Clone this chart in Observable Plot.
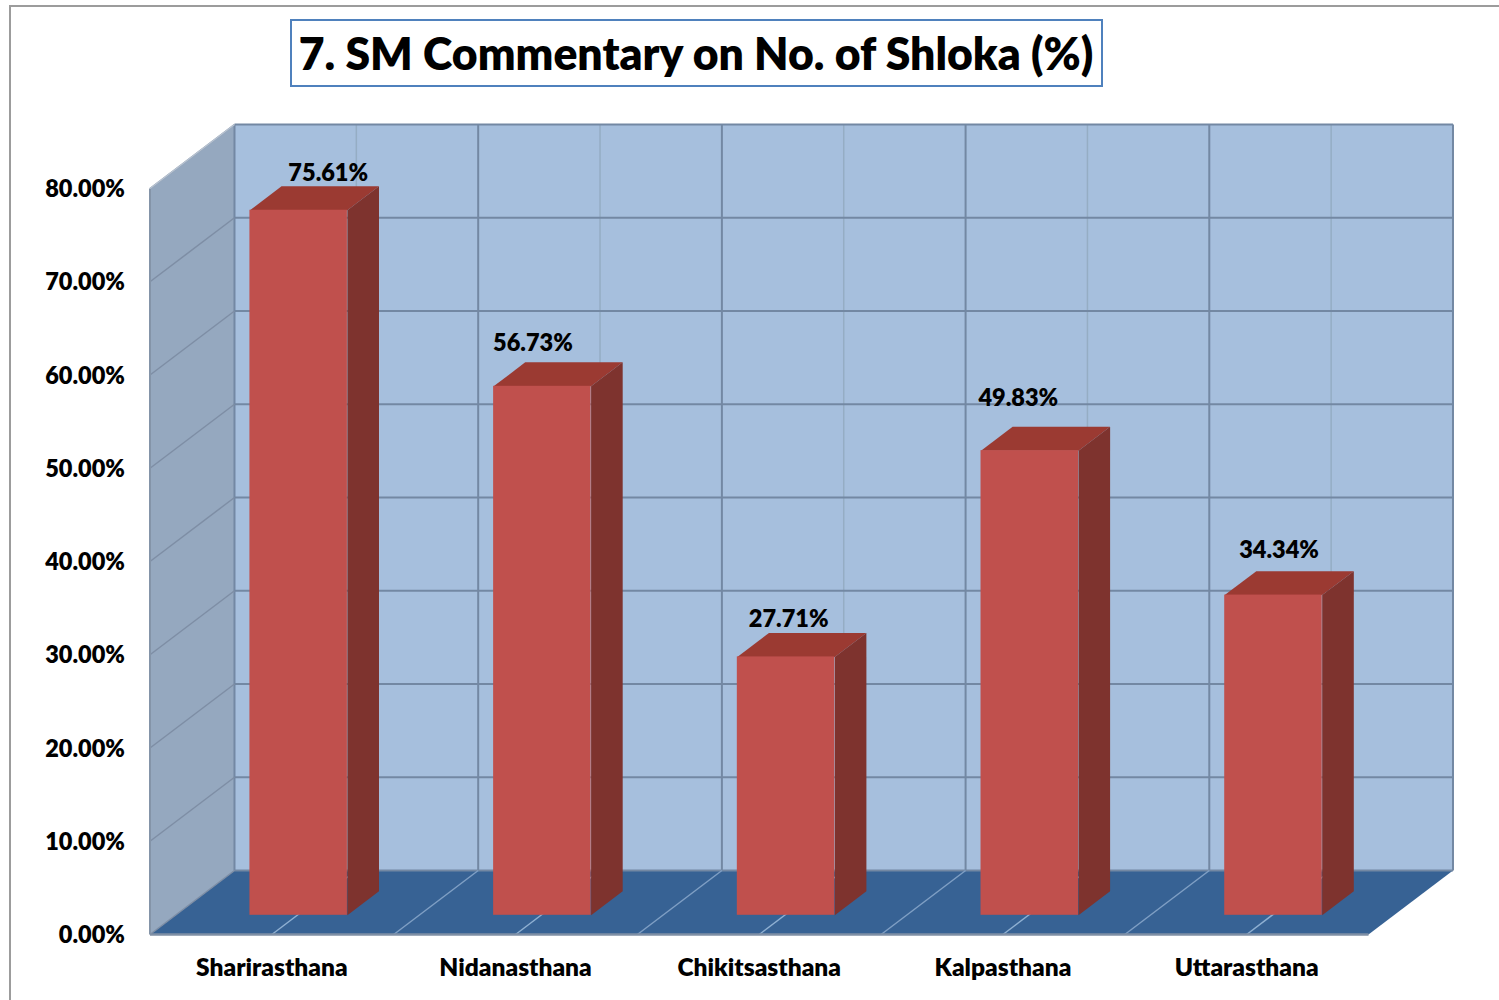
<!DOCTYPE html>
<html>
<head>
<meta charset="utf-8">
<script src="https://cdn.jsdelivr.net/npm/d3@7"></script>
<script src="https://cdn.jsdelivr.net/npm/@observablehq/plot@0.6"></script>
<style>
  html, body { margin: 0; padding: 0; background: #fff; }
  #page { position: relative; width: 1499px; height: 1000px; overflow: hidden; font-family: Lato, sans-serif; }
  #frame { position: absolute; left: 9px; top: 5px; right: -4px; bottom: -4px; border: 2px solid #9c9c9c; }
  #head { position: relative; height: 90px; }
  #title { position: absolute; left: 289.5px; top: 18.5px; width: 809px; height: 64px; border: 2px solid #4f81bd; background: #fff;
           font-weight: 800; font-size: 44.5px; line-height: 64px; text-align: center; color: #000; white-space: nowrap; }
  #chart { position: relative; }
  #chart svg { display: block; background: transparent; overflow: visible; }
</style>
</head>
<body>
<div id="page">
  <div id="frame"></div>
  <div id="head"><div id="title">7. SM Commentary on No. of Shloka (%)</div></div>
  <div id="chart"></div>
</div>
<script>
// Data
const categories = ["Sharirasthana", "Nidanasthana", "Chikitsasthana", "Kalpasthana", "Uttarasthana"];
const values = [75.61, 56.73, 27.71, 49.83, 34.34];
const valueLabels = ["75.61%", "56.73%", "27.71%", "49.83%", "34.34%"];
const yTicks = [0, 10, 20, 30, 40, 50, 60, 70, 80];
const bandEdges = [0, 1, 2, 3, 4, 5];
const bandCentres = [0.5, 1.5, 2.5, 3.5, 4.5];

// Layout of the 3D look (kept apart from the data)
const labelDx = [-2, -41, -29, -43, -26];
const labelDy = [-13, -19, -14, -28, -21];
const depthX = 0.3467, depthY = 6.863;        // shift of the back plane, in scale units
const barInset = 0.306, barEnd = 0.706;       // bar extent inside its band
const barNear = 0.3, barFar = 0.674;          // bar extent in depth
const yMax = 80, nBands = categories.length;

const P = (x, y, d) => ({x: x + d * depthX, y: y + d * depthY});
const poly = (id, pts) => pts.map(p => ({id, ...p}));
const seg = (a, b) => ({x1: a.x, y1: a.y, x2: b.x, y2: b.y});

const sideWall = poly("side", [P(0,0,0), P(0,yMax,0), P(0,yMax,1), P(0,0,1)]);
const backWall = poly("back", [P(0,0,1), P(0,yMax,1), P(nBands,yMax,1), P(nBands,0,1)]);
const floor = poly("floor", [P(0,0,0), P(nBands,0,0), P(nBands,0,1), P(0,0,1)]);

const hGrid = yTicks.map(v => seg(P(0,v,1), P(nBands,v,1)));
const sideGrid = yTicks.map(v => seg(P(0,v,0), P(0,v,1)));
const vGrid = bandEdges.map(e => seg(P(e,0,1), P(e,yMax,1)));
const vGridFaint = bandCentres.map(c => seg(P(c,0,1), P(c,yMax,1)));
const floorEdges = bandEdges.slice(1, -1).map(e => seg(P(e,0,0), P(e,0,1)));
const floorCentres = bandCentres.map(c => seg(P(c,0,0), P(c,0,1)));

const bars = values.map((v, i) => ({
  i, v,
  front: {x1: i + barInset + barNear * depthX, x2: i + barEnd + barNear * depthX, y1: barNear * depthY, y2: v + barNear * depthY}
}));
const barTops = bars.flatMap(b => poly("t" + b.i, [
  P(b.i + barInset, b.v, barNear), P(b.i + barEnd, b.v, barNear),
  P(b.i + barEnd, b.v, barFar), P(b.i + barInset, b.v, barFar)]));
const barSides = bars.flatMap(b => poly("s" + b.i, [
  P(b.i + barEnd, 0, barNear), P(b.i + barEnd, b.v, barNear),
  P(b.i + barEnd, b.v, barFar), P(b.i + barEnd, 0, barFar)]));

const face = (data, fill) => Plot.line(data, {x: "x", y: "y", z: "id", fill, stroke: "none", curve: "linear-closed"});
const rule = (data, stroke, strokeWidth) => Plot.link(data, {x1: "x1", y1: "y1", x2: "x2", y2: "y2", stroke, strokeWidth});

const chart = Plot.plot({
  width: 1499,
  height: 910,
  marginLeft: 149.5,
  marginRight: 131,
  marginTop: 98,
  marginBottom: 66,
  style: {fontFamily: "Lato, sans-serif", background: "transparent", color: "#000"},
  x: {type: "linear", domain: [0, nBands], range: [149.5, 1368], axis: null},
  y: {type: "linear", domain: [0, yMax], range: [844, 98], axis: null},
  marks: [
    face(backWall, "#a6bfdd"),
    face(sideWall, "#95a8bf"),
    face(floor, "#376294"),
    rule(vGridFaint, "#95adc4", 1.5),
    rule(hGrid, "#7388a3", 2),
    rule(vGrid, "#7388a3", 2),
    rule(sideGrid, "#7e8ea5", 1.5),
    rule(floorEdges, "#7f9fc4", 1.5),
    rule(floorCentres, "#8fb0d2", 1.5),
    rule([seg(P(0,0,0), P(0,yMax,0))], "#8494a8", 2),
    rule([seg(P(0,yMax,0), P(0,yMax,1))], "#b9c4d2", 1.5),
    rule([seg(P(0,0,0), P(nBands,0,0))], "#7f8fa5", 2.5),
    face(barTops, "#9b3a32"),
    face(barSides, "#7e332e"),
    Plot.rect(bars.map(b => b.front), {x1: "x1", x2: "x2", y1: "y1", y2: "y2", fill: "#c0504d"}),
    ...bars.map((b, i) => {
      const p = P(b.i + (barInset + barEnd) / 2, b.v, barFar);
      return Plot.text([valueLabels[i]], {
        x: () => p.x, y: () => p.y, text: d => d,
        dx: labelDx[i], dy: labelDy[i],
        fontSize: 23.5, fontWeight: 800, fill: "#000", textAnchor: "middle"
      });
    }),
    Plot.axisY({
      ticks: yTicks, tickFormat: d => d.toFixed(2) + "%", tickSize: 0, tickPadding: 25,
      fontSize: 23.5, fontWeight: 800, anchor: "left", label: null, dy: 1
    }),
    Plot.axisX({
      ticks: bandCentres, tickFormat: d => categories[bandCentres.indexOf(d)], tickSize: 0, tickPadding: 24,
      fontSize: 24.5, fontWeight: 800, anchor: "bottom", label: null
    })
  ]
});
document.getElementById("chart").appendChild(chart);
</script>
</body>
</html>
